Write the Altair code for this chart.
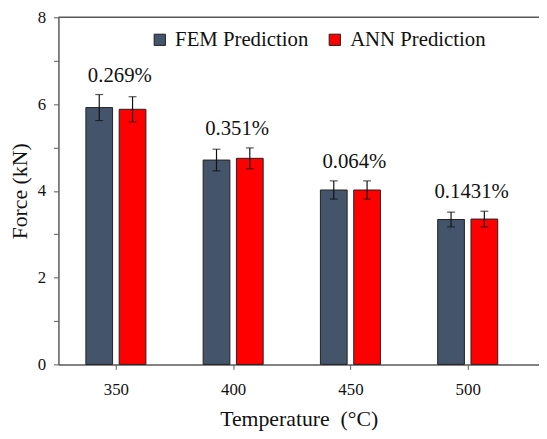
import altair as alt
import pandas as pd

temps = [350, 400, 450, 500]
series_names = ["FEM Prediction", "ANN Prediction"]
fem = [5.92, 4.71, 4.02, 3.34]
ann = [5.88, 4.75, 4.02, 3.35]
fem_err = [0.30, 0.25, 0.21, 0.17]
ann_err = [0.29, 0.24, 0.21, 0.18]
pct_labels = ["0.269%", "0.351%", "0.064%", "0.1431%"]

FONT = "Liberation Serif"
W, H = 486, 351
OFF = 7.1     # group offset in degrees
HALF = 5.7    # half bar width in degrees

rows = []
for i, t in enumerate(temps):
    for s, v, e, o in [(series_names[0], fem[i], fem_err[i], -OFF),
                       (series_names[1], ann[i], ann_err[i], OFF)]:
        rows.append({"temp": t, "series": s, "value": v, "err": e, "off": o})
df = pd.DataFrame(rows)
lab = pd.DataFrame({
    "temp": temps,
    "label": pct_labels,
    "top": [max(fem[i] + fem_err[i], ann[i] + ann_err[i]) for i in range(len(temps))],
})

xscale = alt.Scale(domain=[325.5, 530.4], nice=False, zero=False)
yscale = alt.Scale(domain=[0, 8], nice=False)

base = alt.Chart(df).transform_calculate(
    xc="datum.temp + datum.off",
    x0="datum.temp + datum.off - %f" % HALF,
    x1="datum.temp + datum.off + %f" % HALF,
    lo="datum.value - datum.err",
    hi="datum.value + datum.err",
)

bars = base.mark_bar(stroke="#222222", strokeWidth=1).encode(
    x=alt.X("x0:Q", scale=xscale,
            axis=alt.Axis(values=temps, format="d", title="Temperature\u00a0\u00a0(°C)",
                          labelPadding=12, titlePadding=12, titleFontSize=22)),
    x2="x1:Q",
    y=alt.Y("value:Q", scale=yscale,
            axis=alt.Axis(values=list(range(0, 9)),
                          labelExpr="datum.value % 2 == 0 ? datum.label : ''",
                          title="Force (kN)", labelPadding=8, titlePadding=6,
                          titleFontSize=22)),
    y2=alt.datum(0),
    color=alt.Color("series:N",
                    scale=alt.Scale(domain=series_names, range=["#44546A", "#FF0000"]),
                    legend=alt.Legend(title=None, orient="none", legendX=92, legendY=12,
                                      direction="horizontal", symbolType="square",
                                      symbolSize=130, symbolStrokeColor="#222222",
                                      symbolStrokeWidth=1, labelFont=FONT,
                                      labelFontSize=21, labelColor="#111111",
                                      labelOffset=5, columnPadding=16)),
)

err_rule = base.mark_rule(color="#111111", strokeWidth=1.2).encode(
    x=alt.X("xc:Q", scale=xscale), y=alt.Y("lo:Q", scale=yscale), y2="hi:Q"
)
cap_lo = base.mark_tick(color="#111111", orient="horizontal", size=8, thickness=1.2).encode(
    x=alt.X("xc:Q", scale=xscale), y=alt.Y("lo:Q", scale=yscale)
)
cap_hi = base.mark_tick(color="#111111", orient="horizontal", size=8, thickness=1.2).encode(
    x=alt.X("xc:Q", scale=xscale), y=alt.Y("hi:Q", scale=yscale)
)

texts = alt.Chart(lab).mark_text(font=FONT, fontSize=21, color="#111111",
                                 dy=-19, dx=4, baseline="middle").encode(
    x=alt.X("temp:Q", scale=xscale), y=alt.Y("top:Q", scale=yscale), text="label:N"
)

top_line = alt.Chart(pd.DataFrame({"a": [0]})).mark_rule(color="#595959", strokeWidth=1.5).encode(
    y=alt.datum(8), x=alt.value(0), x2=alt.value(W)
)

chart = alt.layer(bars, err_rule, cap_lo, cap_hi, texts, top_line).properties(
    width=W, height=H,
    autosize=alt.AutoSizeParams(type="none"),
    padding={"left": 51, "top": 7, "right": 0, "bottom": 72},
).configure_view(stroke=None).configure_axis(
    labelFont=FONT, titleFont=FONT, labelFontSize=17, titleFontSize=21,
    titleFontWeight="normal", labelColor="#111111", titleColor="#111111",
    domainColor="#595959", domainWidth=1.5, tickColor="#595959", tickSize=5,
    grid=False,
)

chart.save("out.html", embed_options={"renderer": "svg", "actions": False})
